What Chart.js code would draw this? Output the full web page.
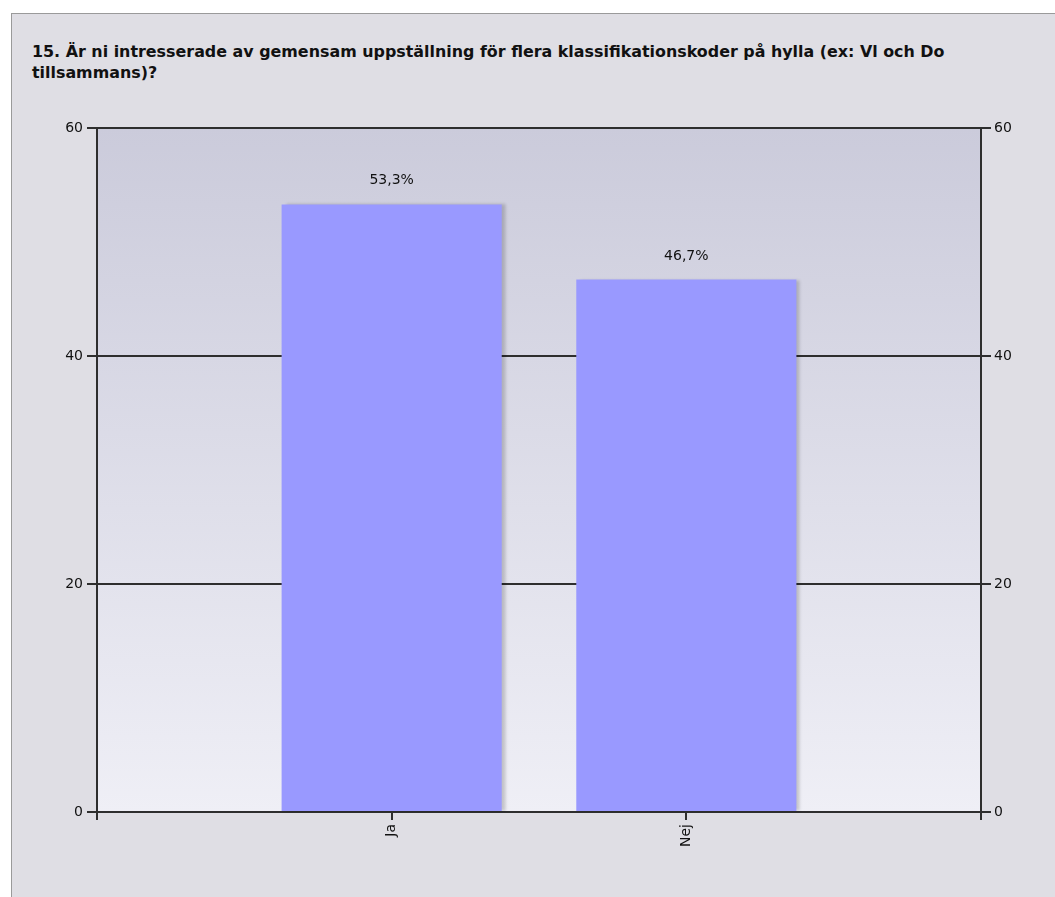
<!DOCTYPE html>
<html>
<head>
<meta charset="utf-8">
<script src="https://cdn.jsdelivr.net/npm/chart.js@4"></script>
<style>
html,body{margin:0;padding:0;background:#ffffff;}
#panel{position:absolute;left:11px;top:13px;width:1050px;height:890px;background:#dfdee4;border:1px solid #9a9a9a;box-sizing:border-box;}
#title{position:absolute;left:20px;top:27px;font-family:"DejaVu Sans";font-weight:bold;font-size:15.9px;line-height:21px;color:#111;white-space:nowrap;}
#wrap{position:absolute;left:0px;top:0px;width:1043px;height:883px;}
</style>
</head>
<body>
<div id="panel">
<div id="title">15. Är ni intresserade av gemensam uppställning för flera klassifikationskoder på hylla (ex: Vl och Do<br>tillsammans)?</div>
<div id="wrap"><canvas id="c" width="1043" height="883"></canvas></div>
</div>
<script>
const categories = ['Ja', 'Nej'];
const values = [53.3, 46.7];
const valueLabels = ['53,3%', '46,7%'];
const yTicks = [0, 20, 40, 60];

const bgPlugin = {
  id: 'bg',
  beforeDraw(chart) {
    const a = chart.chartArea, ctx = chart.ctx;
    const g = ctx.createLinearGradient(0, a.top, 0, a.bottom);
    g.addColorStop(0, '#cbcbdb');
    g.addColorStop(1, '#efeff6');
    ctx.save();
    ctx.fillStyle = g;
    ctx.fillRect(a.left, a.top, a.right - a.left, a.bottom - a.top);
    ctx.restore();
  },
  beforeDatasetsDraw(chart) {
    const ctx = chart.ctx;
    ctx.save();
    ctx.shadowColor = 'rgba(0,0,0,0.18)';
    ctx.shadowOffsetX = 4;
    ctx.shadowOffsetY = 0;
    ctx.shadowBlur = 3;
  },
  afterDatasetsDraw(chart) {
    const ctx = chart.ctx;
    ctx.restore();
    ctx.save();
    ctx.font = '14px "DejaVu Sans"';
    ctx.fillStyle = '#111';
    ctx.textAlign = 'center';
    ctx.textBaseline = 'alphabetic';
    chart.getDatasetMeta(0).data.forEach((el, i) => {
      ctx.fillText(valueLabels[i], el.x, el.y - 20);
    });
    ctx.restore();
  }
};

new Chart(document.getElementById('c'), {
  type: 'bar',
  data: {
    datasets: [{
      data: categories.map((c, i) => ({ x: i, y: values[i] })),
      backgroundColor: '#9999ff',
      borderWidth: 0,
      barPercentage: 0.747,
      categoryPercentage: 1.0
    }]
  },
  options: {
    responsive: false,
    animation: false,
    layout: { padding: { left: 0, right: 0, top: 114, bottom: 0 } },
    plugins: { legend: { display: false }, tooltip: { enabled: false }, title: { display: false } },
    scales: {
      x: {
        type: 'linear', min: -1, max: 2, offset: false,
        afterFit(s) { s.height = 85; },
        ticks: {
          stepSize: 1,
          minRotation: 90, maxRotation: 90, autoSkip: false,
          color: '#111', font: { family: 'DejaVu Sans', size: 14 }, padding: 4,
          callback: (v) => categories[v] !== undefined ? categories[v] : ''
        },
        grid: { offset: false, drawOnChartArea: false, drawTicks: true, tickLength: 8, color: '#2e2e2e', lineWidth: 2 },
        border: { color: '#2e2e2e', width: 2 }
      },
      y: {
        position: 'left', min: 0, max: 60,
        afterFit(s) { s.width = 85; },
        afterBuildTicks(s) { s.ticks = yTicks.map(v => ({ value: v })); },
        ticks: { color: '#111', font: { family: 'DejaVu Sans', size: 14 }, padding: 4 },
        grid: { color: '#2e2e2e', lineWidth: 2, tickLength: 10 },
        border: { color: '#2e2e2e', width: 2 }
      },
      y2: {
        position: 'right', min: 0, max: 60,
        afterFit(s) { s.width = 74; },
        afterBuildTicks(s) { s.ticks = yTicks.map(v => ({ value: v })); },
        ticks: { color: '#111', font: { family: 'DejaVu Sans', size: 14 }, padding: 3 },
        grid: { drawOnChartArea: false, color: '#2e2e2e', lineWidth: 2, tickLength: 10 },
        border: { color: '#2e2e2e', width: 2 }
      }
    }
  },
  plugins: [bgPlugin]
});
</script>
</body>
</html>
